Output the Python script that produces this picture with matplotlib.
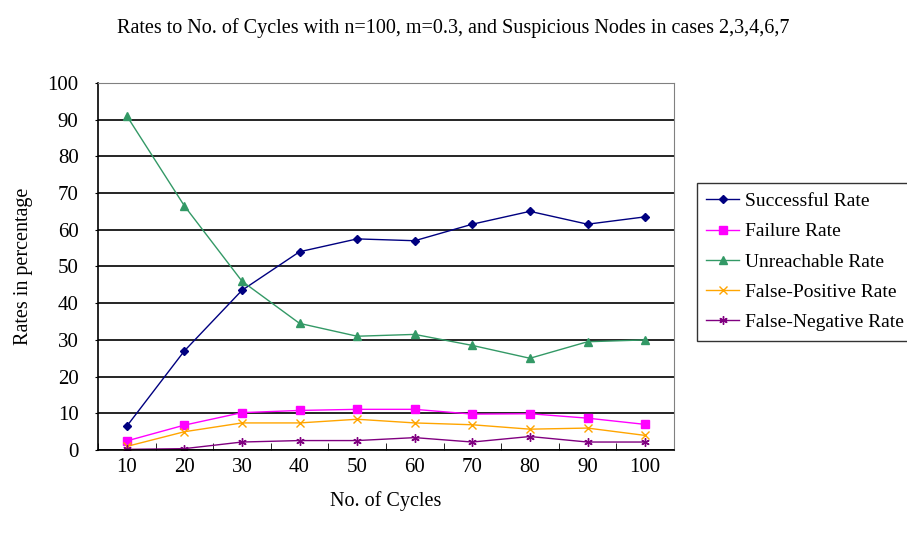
import matplotlib
matplotlib.use("Agg")
import matplotlib.pyplot as plt
import numpy as np

plt.rcParams["font.family"] = ["Liberation Serif", "DejaVu Serif"]

cycles = [10, 20, 30, 40, 50, 60, 70, 80, 90, 100]
successful = [6.5, 27, 43.5, 54, 57.5, 57, 61.5, 65, 61.5, 63.5]
failure = [2.5, 6.8, 10.2, 10.8, 11.1, 11.1, 9.8, 9.9, 8.7, 7.0]
unreachable = [91, 66.5, 46, 34.5, 31, 31.5, 28.5, 25, 29.5, 30]
false_pos = [1.0, 5.0, 7.4, 7.4, 8.4, 7.4, 6.9, 5.7, 6.0, 4.0]
false_neg = [0.2, 0.4, 2.2, 2.6, 2.6, 3.4, 2.2, 3.7, 2.2, 2.2]

series = [
    ("Successful Rate", successful, "#000080", "D", 4.5),
    ("Failure Rate", failure, "#FF00FF", "s", 5.5),
    ("Unreachable Rate", unreachable, "#339966", "^", 6),
    ("False-Positive Rate", false_pos, "#FFA500", "x", 5.5),
    ("False-Negative Rate", false_neg, "#800080", (6, 2, 0), 6),
]

fig = plt.figure(figsize=(9.07, 5.41), dpi=100)
ax = fig.add_axes([0.108, 0.168, 0.635, 0.679])

x = np.arange(len(cycles))
for name, vals, col, mk, ms in series:
    ax.plot(x, vals, color=col, lw=1.0, marker=mk, ms=ms,
            mec=col, mfc=col, label=name)

ax.set_xlim(-0.5, len(cycles) - 0.5)
ax.set_ylim(0, 100)
ax.set_yticks(range(0, 101, 10))
ax.yaxis.grid(True, color="black", lw=1.2)
ax.set_axisbelow(True)

ax.set_xticks(x)
ax.set_xticklabels([str(c) for c in cycles])
ax.tick_params(axis="x", length=0, pad=6, labelsize=15)
ax.set_xticks(np.arange(-0.5, len(cycles)), minor=True)
ax.tick_params(axis="x", which="minor", direction="in", length=5, color="black")
ax.tick_params(axis="y", direction="out", length=2, labelsize=15, pad=12)

for side in ["top", "right"]:
    ax.spines[side].set_color("#808080")
ax.spines["left"].set_color("black")
ax.spines["bottom"].set_color("black")
ax.spines["left"].set_linewidth(1.2)
ax.spines["bottom"].set_linewidth(1.2)

ax.set_xlabel("No. of Cycles", fontsize=14.5, labelpad=10)
ax.set_ylabel("Rates in percentage", fontsize=14.5, labelpad=10)

fig.suptitle("Rates to No. of Cycles with n=100, m=0.3, and Suspicious Nodes in cases 2,3,4,6,7",
             fontsize=14.5, y=0.966)

leg = fig.legend(loc="upper left", bbox_to_anchor=(0.768, 0.662),
                 bbox_transform=fig.transFigure, fontsize=14, frameon=True,
                 fancybox=False, edgecolor="black", handlelength=1.7,
                 labelspacing=0.65, borderpad=0.5, handletextpad=0.3,
                 borderaxespad=0)
leg.get_frame().set_linewidth(1.0)

fig.savefig("out.png", dpi=100)
